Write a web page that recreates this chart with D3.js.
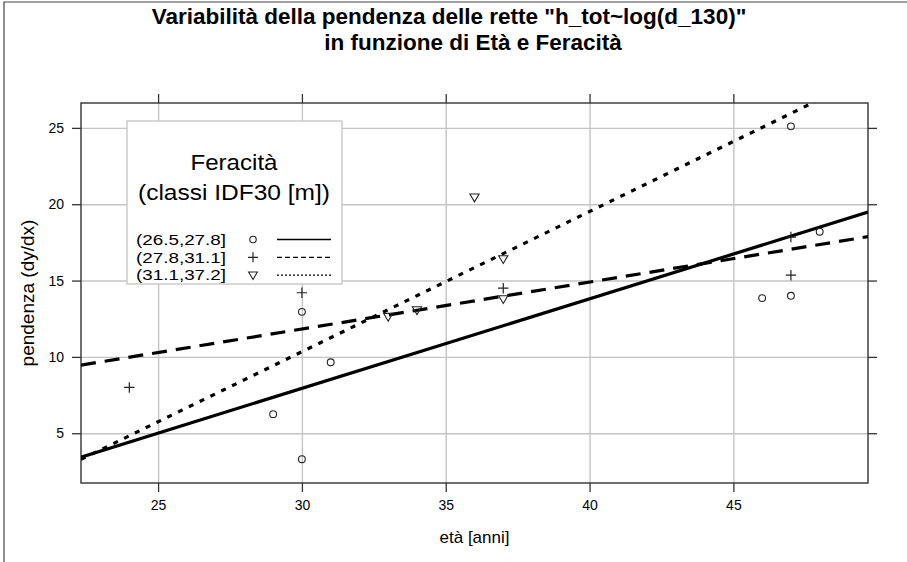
<!DOCTYPE html>
<html>
<head>
<meta charset="utf-8">
<script src="https://cdn.jsdelivr.net/npm/d3@7"></script>
<style>
  body { margin: 0; background: #fff; }
  svg text { font-family: "Liberation Sans", Arial, Helvetica, sans-serif; fill: #000; }
</style>
</head>
<body>
<div class="chart"></div>
<script>
// data
var titleLines = ['Variabilità della pendenza delle rette "h_tot~log(d_130)"', "in funzione di Età e Feracità"];
var xLabel = "età [anni]";
var yLabel = "pendenza (dy/dx)";
var legendTitle = ["Feracità", "(classi IDF30 [m])"];
var groupLabels = ["(26.5,27.8]", "(27.8,31.1]", "(31.1,37.2]"];
var groupSymbols = ["circle", "plus", "triangle"];
var groupDash = ["none", "15,9", "5,7"];
var legendDash = ["none", "5,3", "2,2"];

var ageA = [29, 30, 30, 31, 46, 47, 47, 48];
var slopeA = [6.25, 12.95, 3.3, 9.65, 13.85, 14.0, 25.1, 18.2];
var ageB = [24, 30, 37, 47, 47];
var slopeB = [8.0, 14.2, 14.5, 17.85, 15.35];
var ageC = [33, 34, 36, 37, 37];
var slopeC = [12.64, 13.07, 20.46, 16.42, 13.8];

// fitted lines (intercept, slope)
var lineIntercept = [-9.66, 2.6, -17.2];
var lineSlope = [0.5866, 0.3075, 0.918];

var xTicks = [25, 30, 35, 40, 45];
var yTicks = [5, 10, 15, 20, 25];

var groups = [
  {age: ageA, slope: slopeA},
  {age: ageB, slope: slopeB},
  {age: ageC, slope: slopeC}
];

var svgWidth = 907, svgHeight = 562;
var margin = {top: 103, right: 39, bottom: 79, left: 81};
var width = svgWidth - margin.left - margin.right;
var height = svgHeight - margin.top - margin.bottom;

var svg = d3.select(".chart").append("svg")
  .attr("width", svgWidth)
  .attr("height", svgHeight);

svg.append("rect").attr("width", svgWidth).attr("height", svgHeight).attr("fill", "#fff");
// outer frame (top and left only, as in the picture)
svg.append("path").attr("d", "M4,562V2H907").attr("fill", "none").attr("stroke", "#444").attr("stroke-width", 1.2);

var chartGroup = svg.append("g").attr("transform", `translate(${margin.left}, ${margin.top})`);

var xScale = d3.scaleLinear().domain([22.32, 49.68]).range([0, width]);
var yScale = d3.scaleLinear().domain([1.74, 26.63]).range([height, 0]);

// grid
chartGroup.append("g")
  .attr("transform", `translate(0, ${height})`)
  .call(d3.axisBottom(xScale).tickValues(xTicks).tickSize(-height).tickFormat(""))
  .call(g => g.select(".domain").remove())
  .selectAll("line").attr("stroke", "#c4c4c4").attr("stroke-width", 1.4);
chartGroup.append("g")
  .call(d3.axisLeft(yScale).tickValues(yTicks).tickSize(-width).tickFormat(""))
  .call(g => g.select(".domain").remove())
  .selectAll("line").attr("stroke", "#c4c4c4").attr("stroke-width", 1.4);

// ticks on all four sides, labels only bottom / left
function styleAxis(g) {
  g.select(".domain").remove();
  g.selectAll("line").attr("stroke", "#333").attr("stroke-width", 1.3);
  g.selectAll("text").attr("font-size", 14).attr("fill", "#000");
}
chartGroup.append("g")
  .attr("transform", `translate(0, ${height})`)
  .call(d3.axisBottom(xScale).tickValues(xTicks).tickSize(9).tickPadding(8).tickFormat(d3.format("d")))
  .call(styleAxis);
chartGroup.append("g")
  .call(d3.axisTop(xScale).tickValues(xTicks).tickSize(9).tickFormat(""))
  .call(styleAxis);
chartGroup.append("g")
  .call(d3.axisLeft(yScale).tickValues(yTicks).tickSize(9).tickPadding(8).tickFormat(d3.format("d")))
  .call(styleAxis);
chartGroup.append("g")
  .attr("transform", `translate(${width}, 0)`)
  .call(d3.axisRight(yScale).tickValues(yTicks).tickSize(9).tickFormat(""))
  .call(styleAxis);

// panel border
chartGroup.append("rect")
  .attr("width", width).attr("height", height)
  .attr("fill", "none").attr("stroke", "#333").attr("stroke-width", 1.4);

// clip for the fitted lines
svg.append("defs").append("clipPath").attr("id", "panelClip")
  .append("rect").attr("width", width).attr("height", height);

var lineGen = d3.line().x(d => xScale(d[0])).y(d => yScale(d[1]));
var linesGroup = chartGroup.append("g").attr("clip-path", "url(#panelClip)");
var xDom = xScale.domain();
lineIntercept.forEach(function(a, i) {
  var pts = xDom.map(x => [x, a + lineSlope[i] * x]);
  linesGroup.append("path")
    .attr("d", lineGen(pts))
    .attr("fill", "none")
    .attr("stroke", "#000")
    .attr("stroke-width", 3.2)
    .attr("stroke-dasharray", groupDash[i]);
});

// point symbols
function drawSymbol(g, type, cx, cy, scale) {
  var s = scale || 1;
  if (type === "circle") {
    g.append("circle").attr("cx", cx).attr("cy", cy).attr("r", 3.4 * s)
      .attr("fill", "none").attr("stroke", "#222").attr("stroke-width", 1.1);
  } else if (type === "plus") {
    var h = 5.2 * s;
    g.append("path").attr("d", `M${cx - h},${cy}H${cx + h}M${cx},${cy - h}V${cy + h}`)
      .attr("stroke", "#222").attr("stroke-width", 1.2).attr("fill", "none");
  } else {
    var w = 4.6 * s;
    g.append("path").attr("d", `M${cx - w},${cy - 3.2 * s}H${cx + w}L${cx},${cy + 4.6 * s}Z`)
      .attr("stroke", "#222").attr("stroke-width", 1.1).attr("fill", "none");
  }
}

var pointsGroup = chartGroup.append("g");
groups.forEach(function(grp, i) {
  grp.age.forEach(function(a, j) {
    drawSymbol(pointsGroup, groupSymbols[i], xScale(a), yScale(grp.slope[j]));
  });
});

// legend
var legend = svg.append("g");
legend.append("rect")
  .attr("x", 127).attr("y", 121).attr("width", 215).attr("height", 163)
  .attr("fill", "#fff").attr("stroke", "#c8c8c8").attr("stroke-width", 1.4);
var legendTitleWidth = [87, 192];
legendTitle.forEach(function(t, i) {
  legend.append("text")
    .attr("x", 234 - legendTitleWidth[i] / 2).attr("y", 162 + i * 30)
    .attr("dy", "0.35em")
    .attr("font-size", 22)
    .attr("textLength", legendTitleWidth[i])
    .attr("lengthAdjust", "spacingAndGlyphs")
    .text(t);
});
groupLabels.forEach(function(lab, i) {
  var yy = 239.5 + i * 17.8;
  legend.append("text")
    .attr("x", 136).attr("y", yy).attr("dy", "0.35em")
    .attr("font-size", 15)
    .attr("textLength", 90)
    .attr("lengthAdjust", "spacingAndGlyphs")
    .text(lab);
  drawSymbol(legend, groupSymbols[i], 253, yy, 0.95);
  legend.append("line")
    .attr("x1", 277).attr("x2", 331).attr("y1", yy).attr("y2", yy)
    .attr("stroke", "#000").attr("stroke-width", 1.3)
    .attr("stroke-dasharray", legendDash[i]);
});

// titles
titleLines.forEach(function(t, i) {
  svg.append("text")
    .attr("x", i === 0 ? 449 : 473)
    .attr("y", 24 + i * 26)
    .attr("text-anchor", "middle")
    .attr("font-size", 22.5)
    .attr("font-weight", "bold")
    .text(t);
});

svg.append("text")
  .attr("transform", `translate(${margin.left + width / 2}, 537)`)
  .attr("dy", "0.35em")
  .attr("text-anchor", "middle")
  .attr("font-size", 17)
  .text(xLabel);

svg.append("text")
  .attr("transform", `translate(27, ${margin.top + height / 2}) rotate(-90)`)
  .attr("dy", "0.35em")
  .attr("text-anchor", "middle")
  .attr("font-size", 19)
  .text(yLabel);
</script>
</body>
</html>
